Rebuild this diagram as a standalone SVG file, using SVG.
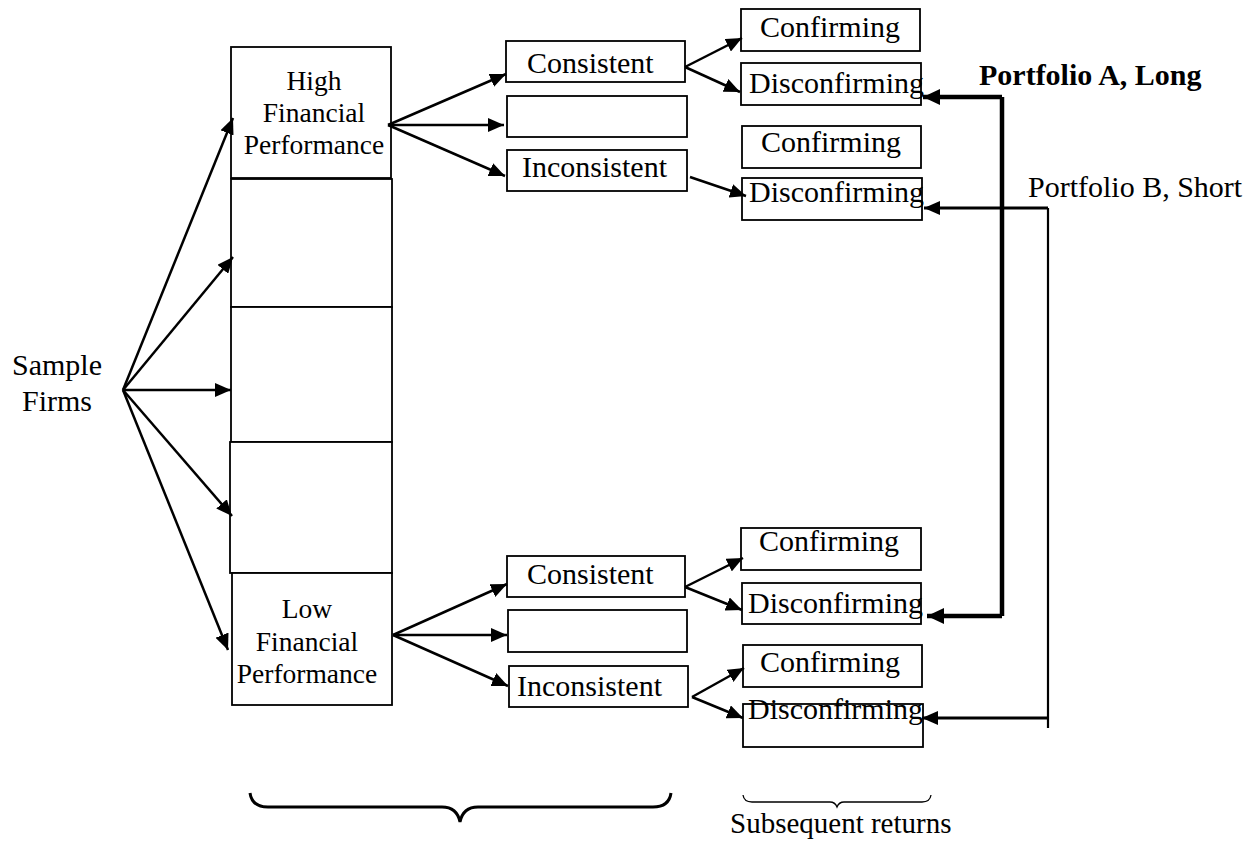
<svg xmlns="http://www.w3.org/2000/svg" width="1251" height="853" viewBox="0 0 1251 853">
<style>
.box{fill:#fff;stroke:#000;stroke-width:1.8}
.t{font-family:"Liberation Serif","Times New Roman",serif;font-size:30px;fill:#000}
.tb{font-family:"Liberation Serif","Times New Roman",serif;font-size:27.5px;fill:#000;text-anchor:middle}
.bold{font-weight:bold}
.arr{fill:none;stroke:#000;stroke-width:2.5;marker-end:url(#ah)}
.thick{fill:none;stroke:#000;stroke-width:4.5}
.thin{fill:none;stroke:#000;stroke-width:3}
.brace{fill:none;stroke:#000}
</style>
<defs>
<marker id="ah" markerUnits="userSpaceOnUse" markerWidth="16" markerHeight="14" refX="16" refY="7" orient="auto">
<path d="M0,0 L16,7 L0,14 z" fill="#000"/>
</marker>
<marker id="ahA" markerUnits="userSpaceOnUse" markerWidth="17" markerHeight="16" refX="17" refY="8" orient="auto">
<path d="M0,0 L17,8 L0,16 z" fill="#000"/>
</marker>
</defs>
<rect width="1251" height="853" fill="#fff"/>

<g id="sample-firms">
<text class="t" x="57" y="375" text-anchor="middle">Sample</text>
<text class="t" x="57" y="411" text-anchor="middle">Firms</text>
</g>

<g id="high-fp">
<rect class="box" x="231" y="47" width="160" height="131"/>
<text class="tb" x="314" y="90">High</text>
<text class="tb" x="314" y="122">Financial</text>
<text class="tb" x="314" y="154">Performance</text>
</g>
<g id="mid-box-1"><rect class="box" x="231" y="179" width="161" height="128"/></g>
<g id="mid-box-2"><rect class="box" x="231" y="307" width="161" height="135"/></g>
<g id="mid-box-3"><rect class="box" x="230" y="442" width="162" height="131"/></g>
<g id="low-fp">
<rect class="box" x="232" y="573" width="160" height="132"/>
<text class="tb" x="307" y="618">Low</text>
<text class="tb" x="307" y="651">Financial</text>
<text class="tb" x="307" y="683">Performance</text>
</g>

<g id="high-consistent">
<rect class="box" x="506" y="41" width="179" height="41"/>
<text class="t" x="527" y="73">Consistent</text>
</g>
<g id="high-empty"><rect class="box" x="507" y="96" width="180" height="41"/></g>
<g id="high-inconsistent">
<rect class="box" x="507" y="150" width="180" height="41"/>
<text class="t" x="522" y="177">Inconsistent</text>
</g>

<g id="low-consistent">
<rect class="box" x="507" y="556" width="178" height="41"/>
<text class="t" x="527" y="584">Consistent</text>
</g>
<g id="low-empty"><rect class="box" x="508" y="610" width="179" height="42"/></g>
<g id="low-inconsistent">
<rect class="box" x="509" y="666" width="179" height="41"/>
<text class="t" x="517" y="696">Inconsistent</text>
</g>

<g id="confirming-1">
<rect class="box" x="741" y="9" width="179" height="42"/>
<text class="t" x="760" y="37">Confirming</text>
</g>
<g id="disconfirming-1">
<rect class="box" x="741" y="63" width="180" height="42"/>
<text class="t" x="749" y="93">Disconfirming</text>
</g>
<g id="confirming-2">
<rect class="box" x="742" y="126" width="179" height="42"/>
<text class="t" x="761" y="152">Confirming</text>
</g>
<g id="disconfirming-2">
<rect class="box" x="742" y="178" width="180" height="42"/>
<text class="t" x="749" y="202">Disconfirming</text>
</g>
<g id="confirming-3">
<rect class="box" x="741" y="528" width="180" height="42"/>
<text class="t" x="759" y="551">Confirming</text>
</g>
<g id="disconfirming-3">
<rect class="box" x="742" y="583" width="179" height="41"/>
<text class="t" x="748" y="613">Disconfirming</text>
</g>
<g id="confirming-4">
<rect class="box" x="743" y="645" width="179" height="42"/>
<text class="t" x="760" y="672">Confirming</text>
</g>
<g id="disconfirming-4">
<rect class="box" x="743" y="704" width="180" height="43"/>
<text class="t" x="748" y="719">Disconfirming</text>
</g>

<g id="portfolio-a"><text class="t bold" x="979" y="85">Portfolio A, Long</text></g>
<g id="portfolio-b"><text class="t" x="1028" y="197">Portfolio B, Short</text></g>

<g id="connectors">
<line class="arr" x1="123" y1="390" x2="233" y2="118"/>
<line class="arr" x1="123" y1="390" x2="233" y2="257"/>
<line class="arr" x1="123" y1="390" x2="231" y2="390"/>
<line class="arr" x1="123" y1="390" x2="232" y2="516"/>
<line class="arr" x1="123" y1="390" x2="228" y2="650"/>

<line class="arr" x1="388" y1="125" x2="506" y2="74"/>
<line class="arr" x1="388" y1="125" x2="504" y2="125"/>
<line class="arr" x1="388" y1="125" x2="505" y2="176"/>

<line class="arr" x1="393" y1="635" x2="507" y2="584"/>
<line class="arr" x1="393" y1="635" x2="507" y2="635"/>
<line class="arr" x1="393" y1="635" x2="508" y2="686"/>

<line class="arr" x1="685" y1="67" x2="742" y2="38"/>
<line class="arr" x1="685" y1="67" x2="740" y2="92"/>
<line class="arr" x1="690" y1="177" x2="746" y2="196"/>

<line class="arr" x1="685" y1="587" x2="743" y2="558"/>
<line class="arr" x1="685" y1="587" x2="742" y2="610"/>
<line class="arr" x1="692" y1="697" x2="744" y2="668"/>
<line class="arr" x1="692" y1="697" x2="743" y2="718"/>

<path class="thick" d="M1002,97 V616"/>
<path class="thick" d="M1002,97 H923" marker-end="url(#ahA)"/>
<path class="thick" d="M1002,616 H927" marker-end="url(#ahA)"/>

<path class="thin" d="M1048,208 V728" style="stroke-width:2.2"/>
<path class="thin" d="M1048,208 H924" marker-end="url(#ah)"/>
<path class="thin" d="M1048,718 H922" marker-end="url(#ah)"/>
</g>

<g id="brace-left">
<path class="brace" stroke-width="3" d="M250,793 Q252,807 268,807 L442,807 Q457,807 460,822 Q463,807 478,807 L653,807 Q669,807 671,793"/>
</g>
<g id="brace-right">
<path class="brace" stroke-width="1.3" d="M743,795 Q744,802 752,802 L830,802 Q835,802 837,807 Q839,802 844,802 L922,802 Q930,802 931,795"/>
<text class="t" x="730" y="833" style="font-size:29px">Subsequent returns</text>
</g>
</svg>
